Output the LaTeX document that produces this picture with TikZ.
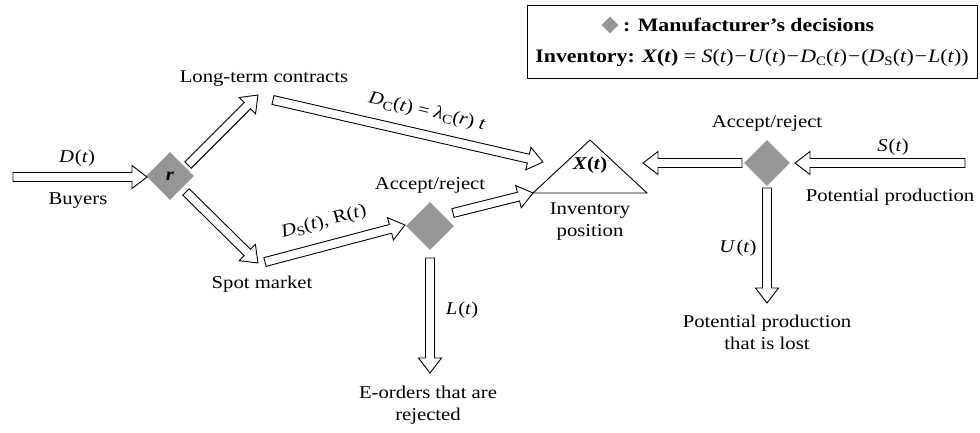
\documentclass[tikz,border=0pt]{standalone}
\usepackage{fontspec}
\setmainfont[FakeStretch=1.15]{Liberation Serif}
\usetikzlibrary{shapes.geometric}
\definecolor{dgray}{RGB}{150,150,150}
\newdimen\hax \newdimen\hay \newdimen\hbx \newdimen\hby
\newcommand\hollowarrow[2]{%
 \pgfextractx{\hax}{\pgfpointanchor{#1}{center}}%
 \pgfextracty{\hay}{\pgfpointanchor{#1}{center}}%
 \pgfextractx{\hbx}{\pgfpointanchor{#2}{center}}%
 \pgfextracty{\hby}{\pgfpointanchor{#2}{center}}%
 \pgfmathsetmacro\hang{atan2(\hby-\hay,\hbx-\hax)}%
 \pgfmathsetmacro\hlen{veclen(\hbx-\hax,\hby-\hay)}%
 \begin{scope}[shift={(#1)},rotate=\hang]
 \draw[harrow] (0pt,-4.5pt) -- ({\hlen pt-15pt},-4.5pt) -- ({\hlen pt-15pt},-11.5pt)
   -- (\hlen pt,0pt) -- ({\hlen pt-15pt},11.5pt) -- ({\hlen pt-15pt},4.5pt) -- (0pt,4.5pt) -- cycle;
 \end{scope}}
\newcommand\sbs[1]{\raisebox{-0.35ex}{\fontsize{13}{13}\selectfont #1}}
\newcommand\mv[1]{\textit{#1}}
\begin{document}
\begin{tikzpicture}[x=1pt,y=-1pt,
  lbl/.style={font=\fontsize{18}{22}\selectfont, inner sep=0pt, align=center},
  leglbl/.style={font=\fontsize{19}{22}\selectfont, inner sep=0pt, align=center},
  dec/.style={diamond, fill=dgray, minimum width=48pt, minimum height=48pt, inner sep=0pt, aspect=1, font=\fontsize{18}{22}\selectfont},
  harrow/.style={draw=black, fill=white, line width=0.9pt, line join=miter}]
\useasboundingbox (0,0) rectangle (980,432);
% legend
\node[draw, line width=1pt, minimum width=450pt, minimum height=73pt, inner sep=0pt] (legend) at (752,41.5) {};
\node[diamond, fill=dgray, minimum width=17pt, minimum height=17pt, inner sep=0pt] (legdia) at (610,25) {};
\node[leglbl, anchor=west] (leg1) at (623,25) {\textbf{: Manufacturer’s decisions}};
\node[leglbl] (leg2) at (752,58) {\textbf{Inventory:} \textbf{\textit{X}(\textit{t})} = \mv{S}(\mv{t})\kern1pt−\kern1pt\mv{U}(\mv{t})\kern1pt−\kern1pt\mv{D}\sbs{C}(\mv{t})\kern1pt−\kern1pt(\mv{D}\sbs{S}(\mv{t})\kern1pt−\kern1pt\mv{L}(\mv{t}))};
% decision nodes
\node[dec] (r) at (170,176) {\textbf{\textit{r}}};
\node[dec] (acc1d) at (430,226) {};
\node[dec, minimum width=46pt, minimum height=46pt] (acc2d) at (767,163) {};
% inventory triangle
\draw[line width=0.9pt] (590,140) -- (647,193) -- (533,193) -- cycle;
\node[lbl] (xt) at (590,165) {\textbf{\textit{X}(\textit{t})}};
% labels
\node[lbl] (dlabel) at (77,158) {\mv{D}\kern1pt(\mv{t})};
\node[lbl] (buyers) at (78,201) {Buyers};
\node[lbl] (ltc) at (264,79) {Long-term contracts};
\node[lbl] (spot) at (262,284) {Spot market};
\node[lbl] (acc1) at (430,185) {Accept/reject};
\node[lbl] (eord) at (428,405) {E-orders that are\\rejected};
\node[lbl] (lt) at (462,310) {\mv{L}\kern1pt(\mv{t})};
\node[lbl] (inv) at (590,222) {Inventory\\position};
\node[lbl] (acc2) at (767,123) {Accept/reject};
\node[lbl] (st) at (893,147) {\mv{S}\kern1pt(\mv{t})};
\node[lbl] (potp) at (890,197) {Potential production};
\node[lbl] (ut) at (738,248) {\mv{U}\kern1pt(\mv{t})};
\node[lbl] (lost) at (767,332) {Potential production\\that is lost};
\node[lbl, rotate=-13] (dclab) at (427,112) {\mv{D}\sbs{C}(\mv{t}) = \mv{λ}\sbs{C}(\mv{r}) \mv{t}};
\node[lbl, rotate=15] (dslab) at (324,222) {\mv{D}\sbs{S}(\mv{t}), R(\mv{t})};
% arrow end points
\coordinate (a1s) at (13,177);   \coordinate (a1e) at (147,177);
\coordinate (a2s) at (188,165);  \coordinate (a2e) at (258,95);
\coordinate (a3s) at (186,192);  \coordinate (a3e) at (258,263);
\coordinate (a4s) at (273,100);  \coordinate (a4e) at (543,162);
\coordinate (a5s) at (265,262);  \coordinate (a5e) at (405,225);
\coordinate (a6s) at (453,213);  \coordinate (a6e) at (533,193);
\coordinate (a7s) at (430,258);  \coordinate (a7e) at (430,373);
\coordinate (a8s) at (742,163);  \coordinate (a8e) at (643,163);
\coordinate (a9s) at (965,163);  \coordinate (a9e) at (795,163);
\coordinate (a10s) at (767,188); \coordinate (a10e) at (767,303);
\hollowarrow{a1s}{a1e}
\hollowarrow{a2s}{a2e}
\hollowarrow{a3s}{a3e}
\hollowarrow{a4s}{a4e}
\hollowarrow{a5s}{a5e}
\hollowarrow{a6s}{a6e}
\hollowarrow{a7s}{a7e}
\hollowarrow{a8s}{a8e}
\hollowarrow{a9s}{a9e}
\hollowarrow{a10s}{a10e}
\end{tikzpicture}
\end{document}
